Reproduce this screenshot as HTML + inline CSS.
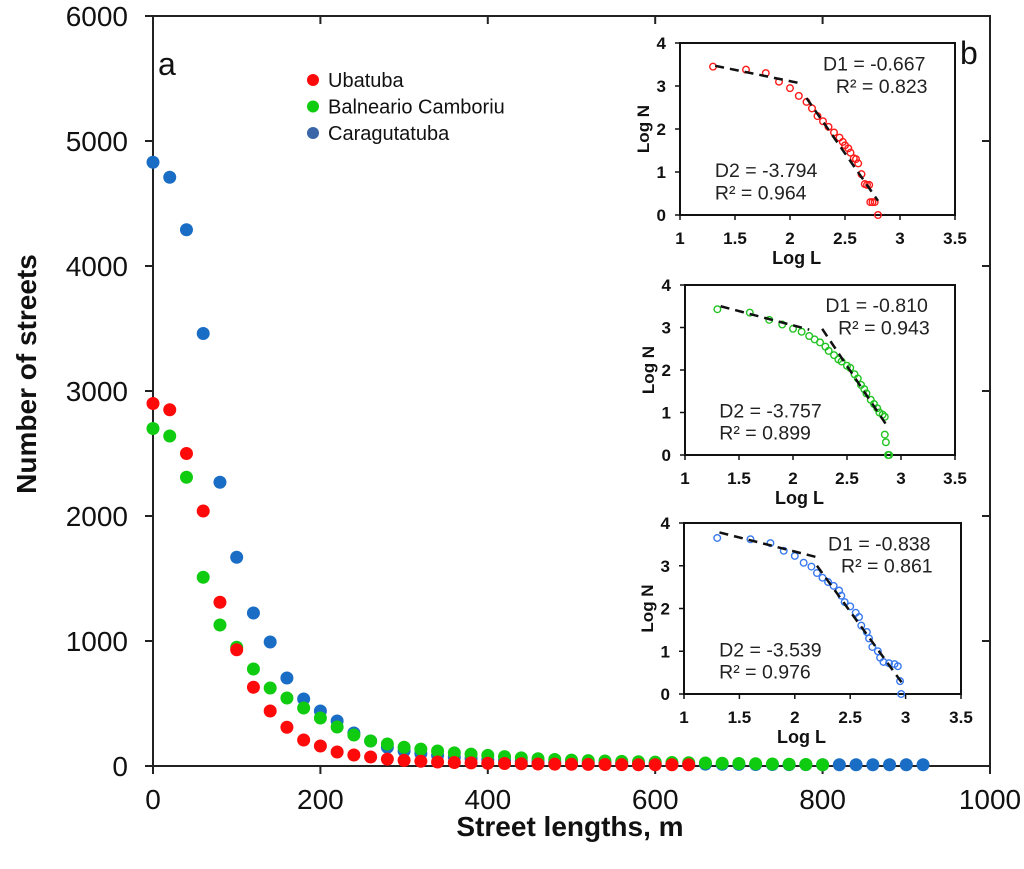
<!DOCTYPE html>
<html><head><meta charset="utf-8"><style>
html,body{margin:0;padding:0;background:#fff;}
svg{display:block;font-family:"Liberation Sans",Arial,sans-serif;}
</style></head><body>
<svg id="chart" width="1024" height="869" viewBox="0 0 1024 869" xmlns="http://www.w3.org/2000/svg"></svg>
<script>
// ---------- main chart data ----------
const xTicks = [0, 200, 400, 600, 800, 1000];
const yTicks = [0, 1000, 2000, 3000, 4000, 5000, 6000];
const ubatubaX = [0,20,40,60,80,100,120,140,160,180,200,220,240,260,280,300,320,340,360,380,400,420,440,460,480,500,520,540,560,580,600,620,640];
const ubatubaY = [2900,2850,2500,2040,1310,930,630,440,310,208,160,112,88,72,55,45,38,32,28,25,22,20,18,16,15,14,13,12,11,10,10,10,10];
const balnX = [0,20,40,60,80,100,120,140,160,180,200,220,240,260,280,300,320,340,360,380,400,420,440,460,480,500,520,540,560,580,600,620,640,660,680,700,720,740,760,780,800];
const balnY = [2700,2640,2310,1510,1128,950,776,624,544,464,384,312,248,200,176,150,135,120,105,95,85,75,65,58,52,47,43,40,37,34,31,28,26,24,22,20,18,16,14,12,10];
const caraX = [0,20,40,60,80,100,120,140,160,180,200,220,240,260,280,300,320,340,360,380,400,420,440,460,480,500,520,540,560,580,600,620,640,660,680,700,720,740,760,780,800,820,840,860,880,900,920];
const caraY = [4830,4710,4290,3460,2270,1670,1224,992,704,536,440,360,264,200,150,120,100,85,70,60,50,45,40,35,30,28,26,24,22,20,18,17,16,15,14,13,12,12,11,11,10,10,10,10,10,10,10];
// ---------- inset data (log L, log N) ----------
const insetXTicks = [1, 1.5, 2, 2.5, 3, 3.5];
const insetYTicks = [0, 1, 2, 3, 4];
const redLogL = [1.3,1.6,1.78,1.9,2.0,2.08,2.15,2.2,2.25,2.3,2.35,2.4,2.45,2.48,2.5,2.53,2.55,2.58,2.6,2.62,2.65,2.68,2.7,2.72,2.73,2.75,2.77,2.8];
const redLogN = [3.45,3.38,3.3,3.1,2.95,2.77,2.63,2.48,2.3,2.18,2.05,1.92,1.8,1.7,1.62,1.55,1.45,1.32,1.3,1.2,0.95,0.72,0.7,0.7,0.3,0.3,0.3,0];
const redFitL = [[1.32,2.12],[2.15,2.8]];
const redFitN = [[3.47,3.05],[2.72,0.33]];
const greenLogL = [1.3,1.6,1.78,1.9,2.0,2.08,2.15,2.2,2.25,2.3,2.33,2.38,2.42,2.45,2.5,2.53,2.57,2.6,2.63,2.66,2.68,2.72,2.75,2.78,2.8,2.83,2.85,2.85,2.86,2.88,2.89];
const greenLogN = [3.43,3.35,3.18,3.07,2.97,2.9,2.8,2.72,2.65,2.55,2.45,2.35,2.25,2.2,2.1,2.05,1.9,1.8,1.65,1.55,1.45,1.3,1.2,1.1,1.0,0.95,0.9,0.48,0.3,0,0];
const greenFitL = [[1.33,2.15],[2.27,2.88]];
const greenFitN = [[3.5,2.95],[2.97,0.65]];
const blueLogL = [1.3,1.6,1.78,1.9,2.0,2.08,2.15,2.2,2.25,2.3,2.35,2.4,2.42,2.45,2.5,2.55,2.58,2.6,2.65,2.67,2.7,2.75,2.77,2.8,2.85,2.9,2.93,2.95,2.96];
const blueLogN = [3.65,3.62,3.53,3.35,3.23,3.07,2.98,2.83,2.72,2.62,2.53,2.42,2.3,2.15,2.05,1.9,1.8,1.6,1.45,1.3,1.1,1.0,0.85,0.75,0.72,0.7,0.65,0.3,0];
const blueFitL = [[1.32,2.2],[2.2,2.97]];
const blueFitN = [[3.78,3.2],[3.0,0.25]];

const svg = document.getElementById('chart');
const NS = 'http://www.w3.org/2000/svg';
function mk(tag, attrs, text){
  const e = document.createElementNS(NS, tag);
  for (const k in attrs) e.setAttribute(k, attrs[k]);
  if (text !== undefined) e.textContent = text;
  svg.appendChild(e);
  return e;
}
const X0=153, X1=990, Y0=766, Y1=16;
const sx = v => X0 + (v/1000)*(X1-X0);
const sy = v => Y0 - (v/6000)*(Y0-Y1);

let frame = mk('rect',{x:X0,y:Y1,width:X1-X0,height:Y0-Y1,fill:'none',stroke:'#222','stroke-width':2});



yTicks.forEach(v=>{
  let t = mk('line',{x1:X0-8,x2:X0,y1:sy(v),y2:sy(v),stroke:'#222','stroke-width':2});
  
  
  let t2 = mk('line',{x1:X1-8,x2:X1,y1:sy(v),y2:sy(v),stroke:'#222','stroke-width':2});
  
  
  let l = mk('text',{x:X0-25,y:sy(v)+10,'text-anchor':'end','font-size':28,fill:'#111'}, String(v));
  
  
});
xTicks.forEach(v=>{
  let t = mk('line',{x1:sx(v),x2:sx(v),y1:Y0,y2:Y0+8,stroke:'#222','stroke-width':2});
  
  
  let t2 = mk('line',{x1:sx(v),x2:sx(v),y1:Y1,y2:Y1+8,stroke:'#222','stroke-width':2});
  
  
  let l = mk('text',{x:sx(v),y:Y0+43,'text-anchor':'middle','font-size':28,fill:'#111'}, String(v));
  
  
});
let yt = mk('text',{x:0,y:0,transform:'translate(36,374) rotate(-90)','text-anchor':'middle','font-size':28,'font-weight':'bold',fill:'#111'},'Number of streets');


let xt = mk('text',{x:570,y:836,'text-anchor':'middle','font-size':28,'font-weight':'bold',fill:'#111'},'Street lengths, m');


let la = mk('text',{x:158,y:75,'font-size':32,fill:'#111'},'a');


let lb = mk('text',{x:960,y:64,'font-size':32,fill:'#111'},'b');



function series(xs, ys, color, name){
  xs.forEach((x,i)=>{
    let c = mk('circle',{cx:sx(x),cy:sy(ys[i]),r:6.5,fill:color});
    
    
  });
}
series(caraX, caraY, '#1a6dc4', 'caragutatuba');
series(balnX, balnY, '#10cc10', 'balneario');
series(ubatubaX, ubatubaY, '#ff0a0a', 'ubatuba');

const legNames = ['Ubatuba','Balneario Camboriu','Caragutatuba'];
const legColors = ['#ff0a0a','#10cc10','#3a65a8'];
legNames.forEach((n,i)=>{
  let c = mk('circle',{cx:313,cy:80+i*26.5,r:6,fill:legColors[i]});
  
  
  let t = mk('text',{x:328,y:87+i*26.5,'font-size':20,fill:'#111'},n);
  
  
});

function inset(box, Ls, Ns, fitL, fitN, color, d1, r1, d2, r2, name){
  const ix = v => box.x0 + (v-1)/2.5*(box.x1-box.x0);
  const iy = v => box.y0 - v/4*(box.y0-box.y1);
  let bg = mk('rect',{x:box.x0,y:box.y1,width:box.x1-box.x0,height:box.y0-box.y1,fill:'#fff',stroke:'#111','stroke-width':2});
  
  
  insetYTicks.forEach(v=>{
    let t = mk('line',{x1:box.x0-5,x2:box.x0,y1:iy(v),y2:iy(v),stroke:'#111','stroke-width':1.5});
    
    
    let l = mk('text',{x:box.x0-14,y:iy(v)+6,'text-anchor':'end','font-size':17,'font-weight':'bold',fill:'#111'},String(v));
    
    
  });
  insetXTicks.forEach(v=>{
    let t = mk('line',{x1:ix(v),x2:ix(v),y1:box.y0,y2:box.y0+5,stroke:'#111','stroke-width':1.5});
    
    
    let l = mk('text',{x:ix(v),y:box.y0+29,'text-anchor':'middle','font-size':17,'font-weight':'bold',fill:'#111'},String(v));
    
    
  });
  let xl = mk('text',{x:ix(2.06),y:box.y0+49,'text-anchor':'middle','font-size':18,'font-weight':'bold',fill:'#111'},'Log L');
  
  
  let yl = mk('text',{x:0,y:0,transform:`translate(${box.x0-31},${(box.y0+box.y1)/2}) rotate(-90)`,'text-anchor':'middle','font-size':17,'font-weight':'bold',fill:'#111'},'Log N');
  
  
  Ls.forEach((L,i)=>{
    let c = mk('circle',{cx:ix(L),cy:iy(Ns[i]),r:3.3,fill:'none',stroke:color,'stroke-width':1.4});
    
    
  });
  fitL.forEach((pair,i)=>{
    let ln = mk('line',{x1:ix(pair[0]),y1:iy(fitN[i][0]),x2:ix(pair[1]),y2:iy(fitN[i][1]),stroke:'#111','stroke-width':2.5,'stroke-dasharray':'9,6'});
    
    
  });
  const w = box.x1-box.x0, h = box.y0-box.y1;
  const texts = [[d1, box.x0+w*0.52, box.y1+h*0.16],[r1, box.x0+w*0.567, box.y1+h*0.29],[d2, box.x0+w*0.127, box.y1+h*0.78],[r2, box.x0+w*0.127, box.y1+h*0.91]];
  texts.forEach(t=>{
    let e = mk('text',{x:t[1],y:t[2],'font-size':19.5,fill:'#222'},t[0]);
    
    
  });
}
inset({x0:680,x1:955,y0:215,y1:43}, redLogL, redLogN, redFitL, redFitN, '#ff1a1a','D1 = -0.667','R² = 0.823','D2  = -3.794','R² =  0.964','inset-ubatuba');
inset({x0:685,x1:955,y0:455,y1:285}, greenLogL, greenLogN, greenFitL, greenFitN, '#22c322','D1 = -0.810','R² = 0.943','D2  = -3.757','R² =  0.899','inset-balneario');
inset({x0:684,x1:961,y0:694,y1:523}, blueLogL, blueLogN, blueFitL, blueFitN, '#3a7aee','D1 = -0.838','R² = 0.861','D2  = -3.539','R² =  0.976','inset-caragutatuba');
</script>
</body></html>
